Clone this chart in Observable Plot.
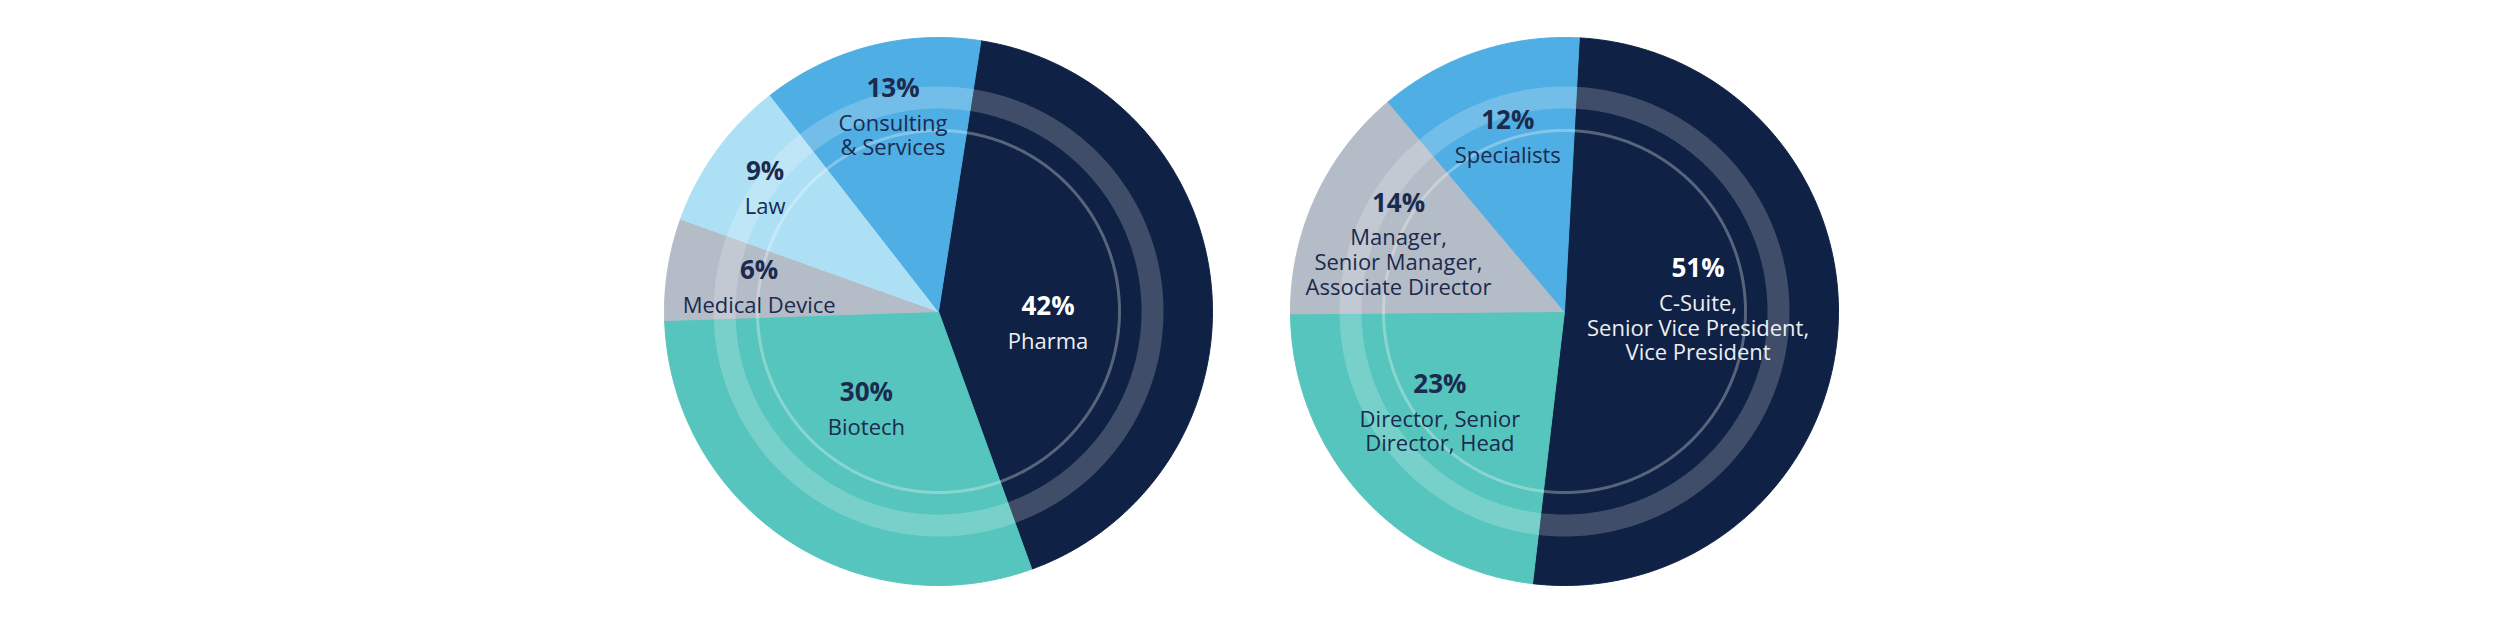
<!DOCTYPE html>
<html><head><meta charset="utf-8">
<script src="https://cdn.jsdelivr.net/npm/d3@7"></script>
<script src="https://cdn.jsdelivr.net/npm/@observablehq/plot@0.6"></script>
<style>html,body{margin:0;padding:0;background:#fff;} #chart svg{display:block}</style>
</head><body><div id="chart"></div>
<script>
// ---- Data ----
const industryNames = ["Pharma", "Biotech", "Medical Device", "Law", "Consulting\n& Services"];
const industryShares = [42, 30, 6, 9, 13];
const roleNames = ["C-Suite,\nSenior Vice President,\nVice President", "Director, Senior\nDirector, Head", "Manager,\nSenior Manager,\nAssociate Director", "Specialists"];
const roleShares = [51, 23, 14, 12];

// ---- Styles ----
const industryColors = ["#0f2144", "#56c5bd", "#b4bcc7", "#aee0f5", "#4faee3"];
const roleColors = ["#0f2144", "#56c5bd", "#b4bcc7", "#4faee3"];
const darkText = "#1b2a4d";
const lightText = "#ffffff";

// ---- Layout ----
const W = 2500, H = 625, R = 274;
const layouts = [
  {cx: 938, cy: 311, start: 8.9, labelR: [0.40, 0.40, 0.67, 0.81, 0.825], labelNudge: [4, 7, 3.4, 2.7, 2.9]},
  {cx: 1564, cy: 311, start: 3.1, labelR: [0.51, 0.53, 0.72, 0.72], labelNudge: [-22, 11, 8, 1.8]}
];
const pies = [
  {names: industryNames, shares: industryShares, colors: industryColors, ...layouts[0]},
  {names: roleNames, shares: roleShares, colors: roleColors, ...layouts[1]}
];

const rad = Math.PI / 180;
const slicePts = [], labels = [], ringPts = [];
pies.forEach((p, pi) => {
  const s0 = p.start * rad;
  const arcs = d3.pie().sort(null).value(d => d).startAngle(s0).endAngle(s0 + 2 * Math.PI)(p.shares);
  arcs.forEach((a, i) => {
    const key = p.names[i];
    const pt = (r, ang) => ({key, x: p.cx + r * Math.sin(ang), y: p.cy - r * Math.cos(ang)});
    slicePts.push({key, x: p.cx, y: p.cy});
    const n = Math.max(2, Math.ceil((a.endAngle - a.startAngle) / (0.5 * rad)));
    for (let k = 0; k <= n; k++) slicePts.push(pt(R, a.startAngle + (a.endAngle - a.startAngle) * k / n));
    slicePts.push({key, x: p.cx, y: p.cy});
    const mid = (a.startAngle + a.endAngle) / 2 + p.labelNudge[i] * rad;
    const lp = pt(R * p.labelR[i], mid);
    labels.push({x: lp.x, y: lp.y, pct: `${p.shares[i]}%`, name: key, onDark: p.colors[i] === "#0f2144"});
  });
  for (const [ring, rr] of [["band", 214], ["thin", 181]]) {
    for (let k = 0; k <= 720; k++) {
      const ang = k * 0.5 * rad;
      ringPts.push({ring: ring + pi, type: ring, x: p.cx + rr * Math.sin(ang), y: p.cy - rr * Math.cos(ang)});
    }
  }
});

const font = "'Open Sans', 'Noto Sans', sans-serif";
const chart = Plot.plot({
  width: W, height: H,
  margin: 0,
  style: {background: "#ffffff", fontFamily: font},
  x: {type: "linear", domain: [0, W], range: [0, W], axis: null},
  y: {type: "linear", domain: [0, H], range: [0, H], axis: null},
  color: {domain: [...industryNames, ...roleNames], range: [...industryColors, ...roleColors]},
  marks: [
    Plot.line(slicePts, {x: "x", y: "y", z: "key", fill: "key", stroke: "key", strokeWidth: 1, curve: "linear"}),
    Plot.line(ringPts.filter(d => d.type === "band"), {x: "x", y: "y", z: "ring", stroke: "#ffffff", strokeOpacity: 0.2, strokeWidth: 22}),
    Plot.line(ringPts.filter(d => d.type === "thin"), {x: "x", y: "y", z: "ring", stroke: "#ffffff", strokeOpacity: 0.3, strokeWidth: 3}),
    // percentages
    Plot.text(labels.filter(d => !d.onDark), {x: "x", y: "y", text: "pct", fill: darkText, fontSize: 26, fontWeight: 700, fontFamily: font, lineAnchor: "middle", textAnchor: "middle", dy: -1.5}),
    Plot.text(labels.filter(d => d.onDark), {x: "x", y: "y", text: "pct", fill: lightText, fontSize: 26, fontWeight: 700, fontFamily: font, lineAnchor: "middle", textAnchor: "middle", dy: -1.5}),
    // names
    Plot.text(labels.filter(d => !d.onDark), {x: "x", y: "y", text: "name", fill: darkText, fontSize: 22, fontFamily: font, lineAnchor: "top", lineHeight: 1.12, dy: 23, textAnchor: "middle"}),
    Plot.text(labels.filter(d => d.onDark), {x: "x", y: "y", text: "name", fill: "#eceef3", fontSize: 22, fontFamily: font, lineAnchor: "top", lineHeight: 1.12, dy: 23, textAnchor: "middle"})
  ]
});
document.getElementById("chart").appendChild(chart);
</script>
</body></html>
